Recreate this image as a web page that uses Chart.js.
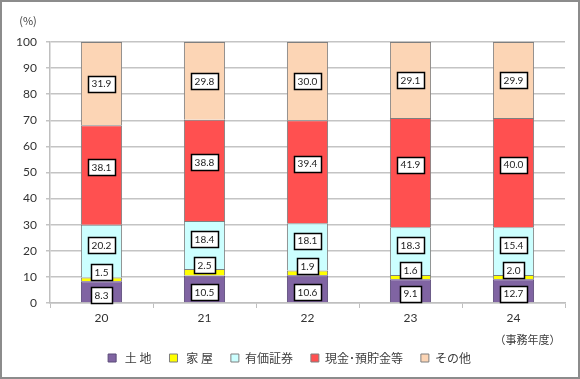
<!DOCTYPE html>
<html>
<head>
<meta charset="utf-8">
<script src="https://cdn.jsdelivr.net/npm/chart.js@4/dist/chart.umd.min.js"></script>
<style>
  html, body { margin: 0; padding: 0; background: #fff; }
  #wrap { width: 580px; height: 379px; position: relative; }
</style>
</head>
<body>
<div id="wrap"><canvas id="c" width="580" height="379"></canvas></div>
<script>
// Fiscal years (事務年度)
const categories = ['20', '21', '22', '23', '24'];
const seriesNames = [' 土 地', ' 家 屋', '有価証券', '現金･預貯金等', 'その他'];

// Segment heights as drawn in the picture (%)
const land       = [8.3, 10.5, 10.6, 9.1, 9.1];
const house      = [1.5, 2.5, 1.9, 1.6, 1.6];
const securities = [20.2, 18.4, 18.1, 18.3, 18.3];
const cash       = [38.1, 38.8, 39.4, 41.9, 41.9];
const other      = [31.9, 29.8, 30.0, 29.1, 29.1];

// Values printed in the boxed data labels
const landLabels       = ['8.3', '10.5', '10.6', '9.1', '12.7'];
const houseLabels      = ['1.5', '2.5', '1.9', '1.6', '2.0'];
const securitiesLabels = ['20.2', '18.4', '18.1', '18.3', '15.4'];
const cashLabels       = ['38.1', '38.8', '39.4', '41.9', '40.0'];
const otherLabels      = ['31.9', '29.8', '30.0', '29.1', '29.9'];

const yTicks = [0, 10, 20, 30, 40, 50, 60, 70, 80, 90, 100];

const colors = ['#8064A2', '#FFFF00', '#CCFFFF', '#FF5050', '#FCD5B5'];
const borders = ['#5a4a78', '#7f7f7f', '#7f7f7f', '#7f7f7f', '#7f7f7f'];
const labelOffsets = [3, -7, -6, -8, 0];
const allValues = [land, house, securities, cash, other];
const allLabels = [landLabels, houseLabels, securitiesLabels, cashLabels, otherLabels];

const NUM_FONT = 'Lato, "Liberation Sans", sans-serif';
const JP_FONT = '"Noto Sans CJK JP", sans-serif';

const frame = {
  id: 'frame',
  beforeDraw(chart) {
    const ctx = chart.ctx;
    ctx.save();
    ctx.fillStyle = '#fff';
    ctx.fillRect(0, 0, chart.width, chart.height);
    ctx.strokeStyle = '#8c8c8c';
    ctx.lineWidth = 2;
    ctx.strokeRect(1, 1, chart.width - 2, chart.height - 2);
    ctx.restore();
  },
  afterDraw(chart) {
    const ctx = chart.ctx;
    const xs = chart.scales.x;
    const ca = chart.chartArea;
    ctx.save();
    ctx.fillStyle = '#404040';
    ctx.font = '11px ' + JP_FONT;
    ctx.textAlign = 'center';
    ctx.textBaseline = 'middle';
    ctx.fillText('(%)', 28, ca.top - 21);
    ctx.font = '11px ' + JP_FONT;
    ctx.fillText('（事務年度）', xs.getPixelForValue(categories.length - 1) + 14, 340);
    ctx.restore();
  }
};

const boxLabels = {
  id: 'boxLabels',
  afterDatasetsDraw(chart) {
    const ctx = chart.ctx;
    ctx.save();
    ctx.font = '10px ' + NUM_FONT;
    ctx.textAlign = 'center';
    ctx.textBaseline = 'middle';
    chart.data.datasets.forEach((ds, di) => {
      const meta = chart.getDatasetMeta(di);
      meta.data.forEach((el, i) => {
        const txt = allLabels[di][i];
        const cx = el.x;
        const cy = (el.y + el.base) / 2 + labelOffsets[di];
        const w = Math.round(ctx.measureText(txt).width) + 7;
        const h = 16;
        const x0 = Math.round(cx - w / 2) + 0.5;
        const y0 = Math.round(cy - h / 2) + 0.5;
        ctx.fillStyle = '#fff';
        ctx.fillRect(x0, y0, w, h);
        ctx.strokeStyle = '#000';
        ctx.lineWidth = 1.5;
        ctx.strokeRect(x0, y0, w, h);
        ctx.fillStyle = '#222';
        ctx.fillText(txt, cx, cy + 0.5);
      });
    });
    ctx.restore();
  }
};

const datasets = seriesNames.map((name, i) => ({
  label: name,
  data: allValues[i],
  backgroundColor: colors[i],
  borderColor: borders[i],
  borderWidth: 1,
  barPercentage: 0.4,
  categoryPercentage: 1.0
}));

new Chart(document.getElementById('c'), {
  type: 'bar',
  data: { labels: categories, datasets },
  options: {
    responsive: false,
    animation: false,
    devicePixelRatio: 1,
    layout: { padding: { left: 14, right: 15, top: 42, bottom: 5 } },
    plugins: {
      legend: {
        position: 'bottom',
        maxHeight: 40,
        labels: {
          boxWidth: 8,
          boxHeight: 8,
          padding: 18,
          color: '#404040',
          font: { size: 12, family: JP_FONT }
        }
      },
      tooltip: { enabled: false }
    },
    scales: {
      x: {
        stacked: true,
        offset: true,
        afterFit(s) { s.height = 31; },
        grid: {
          offset: true,
          drawOnChartArea: false,
          drawTicks: true,
          tickLength: 5,
          color: '#bfbfbf',
          lineWidth: 1
        },
        border: { display: true, color: '#bfbfbf', width: 1.5 },
        ticks: { color: '#333', padding: 3, font: { size: 12, family: NUM_FONT } }
      },
      y: {
        stacked: true,
        min: 0,
        max: 100,
        afterFit(s) { s.width = 36; },
        afterBuildTicks(s) { s.ticks = yTicks.map(v => ({ value: v })); },
        grid: { color: '#c4c4c4', lineWidth: 1.5, tickLength: 4 },
        border: { display: true, color: '#bfbfbf', width: 1.5 },
        ticks: { color: '#333', padding: 9, font: { size: 12, family: NUM_FONT } }
      }
    }
  },
  plugins: [frame, boxLabels]
});
</script>
</body>
</html>
